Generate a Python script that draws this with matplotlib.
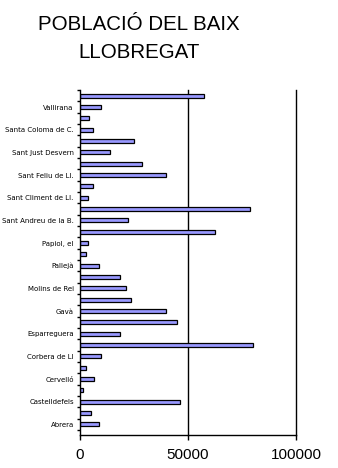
import numpy as np
import matplotlib
matplotlib.use("Agg")
import matplotlib.pyplot as plt

# municipalities, bottom to top (alphabetical); only every other one is labelled
towns = ["Abrera", "Begues", "Castelldefels", "Castellví de Rosanes", "Cervelló",
         "Collbató", "Corbera de Ll", "Cornellà de Llobregat", "Esparreguera",
         "Esplugues de Llobregat", "Gavà", "Martorell", "Molins de Rei",
         "Olesa de Montserrat", "Pallejà", "Palma de Cervelló, la", "Papiol, el",
         "Prat de Llobregat, el", "Sant Andreu de la B.", "Sant Boi de Llobregat",
         "Sant Climent de Ll.", "Sant Esteve Sesrovires", "Sant Feliu de Ll.",
         "Sant Joan Despí", "Sant Just Desvern", "Sant Vicenç dels Horts",
         "Santa Coloma de C.", "Torrelles de Llobregat", "Vallirana", "Viladecans"]
population = [9000, 4900, 46500, 1500, 6300, 2600, 9900, 80300, 18700, 45100,
              40000, 23400, 21100, 18300, 8600, 3000, 3500, 62300, 22000, 78900,
              3500, 5800, 40000, 28900, 14100, 24800, 5800, 4000, 9900, 57200]
shown = [t if i % 2 == 0 else "" for i, t in enumerate(towns)]

fig = plt.figure(figsize=(3.38, 4.68), dpi=100)
ax = fig.add_axes([80 / 338, 1 - 435 / 468, 216 / 338, 345 / 468])

pos = np.arange(len(towns))
ax.barh(pos, population, height=0.36, color="#9999ff", edgecolor="black",
        linewidth=0.9, zorder=2)

ax.set_xlim(0, 100000)
ax.set_ylim(-0.94, 29.47)
for v in [50000, 100000]:
    ax.axvline(v, color="black", linewidth=1.0, zorder=1, clip_on=False)

ax.spines["top"].set_visible(False)
ax.spines["right"].set_visible(False)
ax.spines["left"].set_linewidth(1.0)
ax.spines["bottom"].set_linewidth(1.0)

ax.set_xticks([0, 50000, 100000])
ax.set_xticklabels(["0", "50000", "100000"], fontfamily="Liberation Sans", fontsize=11)
ax.tick_params(axis="x", direction="out", length=3.5, width=1.0, pad=6)

ax.set_yticks(pos[::2])
ax.set_yticklabels(shown[::2], fontfamily="DejaVu Sans", fontsize=5.0)
ax.set_yticks(np.arange(-0.5, 30, 1), minor=True)
ax.tick_params(axis="y", which="major", length=0, pad=4.5)
ax.tick_params(axis="y", which="minor", direction="out", length=2.5, width=1.0)

fig.text(139 / 338, 1 - 30 / 468, "POBLACIÓ DEL BAIX", ha="center", va="baseline",
         fontfamily="Liberation Sans", fontsize=14.8)
fig.text(139 / 338, 1 - 58 / 468, "LLOBREGAT", ha="center", va="baseline",
         fontfamily="Liberation Sans", fontsize=14.8)

fig.savefig("out.png", dpi=100)
